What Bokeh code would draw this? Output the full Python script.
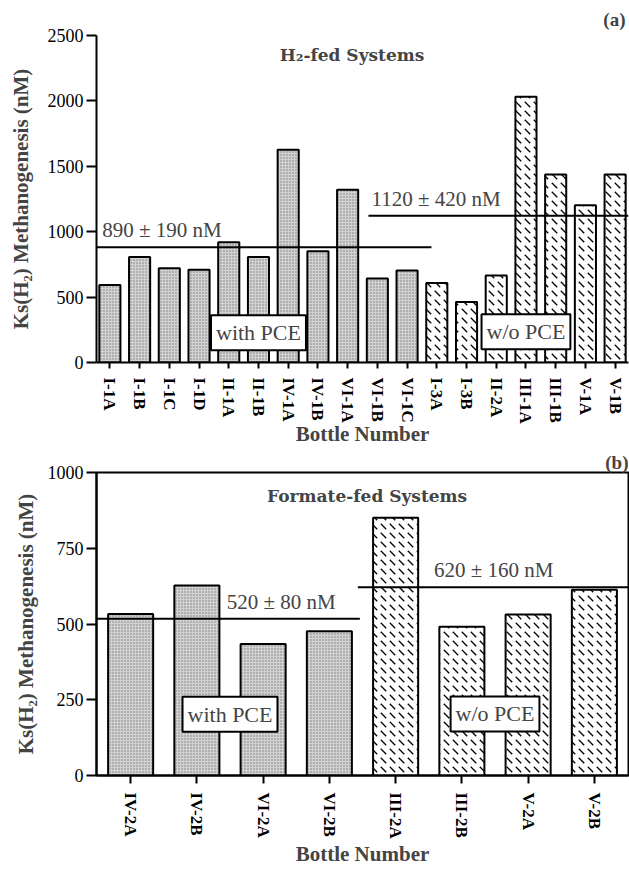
import numpy as np
from bokeh.plotting import figure
from bokeh.layouts import column
from bokeh.models import Range1d, FixedTicker, Label
from bokeh.embed import file_html
from bokeh.resources import INLINE

# ---------------- data: panel (a) H2-fed systems ----------------
a_with_bottles = ["I-1A", "I-1B", "I-1C", "I-1D", "II-1A", "II-1B", "IV-1A",
                  "IV-1B", "VI-1A", "VI-1B", "VI-1C"]
a_with_ks = [593, 806, 720, 709, 920, 806, 1626, 851, 1320, 643, 704]
a_without_bottles = ["I-3A", "I-3B", "II-2A", "III-1A", "III-1B", "V-1A", "V-1B"]
a_without_ks = [608, 463, 666, 2031, 1438, 1203, 1438]
a_with_text = "890 ± 190 nM"
a_without_text = "1120 ± 420 nM"
a_yticks = [0, 500, 1000, 1500, 2000, 2500]

# ---------------- data: panel (b) formate-fed systems ----------------
b_with_bottles = ["IV-2A", "IV-2B", "VI-2A", "VI-2B"]
b_with_ks = [533, 627, 434, 476]
b_without_bottles = ["III-2A", "III-2B", "V-2A", "V-2B"]
b_without_ks = [851, 491, 531, 613]
b_with_text = "520 ± 80 nM"
b_without_text = "620 ± 160 nM"
b_yticks = [0, 250, 500, 750, 1000]

SERIF = "Liberation Serif"
TITLE_FONT = "DejaVu Serif"
GRAY = "#d2d2d2"


def panel(with_b, with_v, wo_b, wo_v, yticks, ymax, xpad, title, tag,
          with_txt, wo_txt, width, height, borders, outline, layout):
    names = with_b + wo_b
    n = len(names)
    xi_with = np.arange(len(with_b))
    xi_wo = np.arange(len(with_b), n)
    p = figure(width=width, height=height, output_backend="svg",
               toolbar_location=None, x_range=Range1d(-xpad, n - 1 + xpad),
               y_range=Range1d(0, ymax), title=tag,
               min_border_left=borders[0], min_border_right=borders[1],
               min_border_top=borders[2], min_border_bottom=borders[3])
    p.title.align = "right"
    p.title.text_font = SERIF
    p.title.text_font_size = "19px"
    p.title.text_font_style = "bold"
    p.title.standoff = layout["tag_standoff"]
    p.title.offset = layout["tag_offset"]
    p.grid.visible = False
    p.background_fill_color = "white"
    p.border_fill_color = "white"
    if outline:
        p.outline_line_color = "black"
        p.outline_line_width = 2
    else:
        p.outline_line_color = None

    bw = layout["bw"]
    p.vbar(x=xi_with, top=with_v, width=bw, fill_color=GRAY,
           hatch_pattern="dot", hatch_color="#7a7a7a", hatch_scale=3,
           hatch_weight=1, line_color="black", line_width=2)
    p.vbar(x=xi_wo, top=wo_v, width=bw, fill_color="white",
           hatch_pattern="left_diagonal_dash", hatch_color="black",
           hatch_scale=9, hatch_weight=1.3, line_color="black", line_width=2)

    m_with = float(np.mean(with_v))
    m_wo = float(np.mean(wo_v))
    x_lo, x_hi = -xpad, n - 1 + xpad
    p.segment(x0=[x_lo, xi_wo[0] - layout["wo_start"]],
              x1=[xi_with[-1] + layout["with_end"], x_hi],
              y0=[m_with, m_wo], y1=[m_with, m_wo],
              line_color="black", line_width=2)

    p.add_layout(Label(x=layout["with_txt_x"], y=m_with, y_offset=5,
                       text=with_txt, text_font=SERIF, text_font_size="21px",
                       text_align="left", text_baseline="bottom"))
    p.add_layout(Label(x=layout["wo_txt_x"], y=m_wo, y_offset=5,
                       text=wo_txt, text_font=SERIF, text_font_size="21px",
                       text_align="left", text_baseline="bottom"))

    for bx, by, t in [(layout["box1"][0], layout["box1"][1], "with PCE"),
                      (layout["box2"][0], layout["box2"][1], "w/o PCE")]:
        p.add_layout(Label(x=bx, y=by, text=t, text_font=SERIF,
                           text_font_size="22px", text_align="center",
                           text_baseline="middle", padding=5,
                           background_fill_color="white",
                           border_line_color="black", border_line_width=2))

    p.add_layout(Label(x=layout["title"][0], y=layout["title"][1], text=title,
                       text_font=TITLE_FONT, text_font_size="17px",
                       text_font_style="bold", text_align="center",
                       text_baseline="middle"))

    xa = p.xaxis[0]
    xa.ticker = FixedTicker(ticks=list(range(n)))
    xa.major_label_overrides = {i: s for i, s in enumerate(names)}
    xa.major_label_orientation = "vertical"
    xa.major_label_text_font = SERIF
    xa.major_label_text_font_style = "bold"
    xa.major_label_text_font_size = "17px"
    xa.major_label_text_color = "black"
    xa.major_tick_in = 0
    xa.major_tick_out = layout["xtick"]
    xa.minor_tick_line_color = None
    xa.major_tick_line_width = 2
    xa.axis_line_width = 2
    xa.axis_line_color = "black"
    xa.major_label_standoff = layout["xstand"]
    xa.axis_label = "Bottle Number"
    xa.axis_label_text_font = SERIF
    xa.axis_label_text_font_style = "bold"
    xa.axis_label_text_font_size = "21px"
    xa.axis_label_standoff = layout["xlab_standoff"]

    ya = p.yaxis[0]
    ya.ticker = FixedTicker(ticks=yticks)
    ya.major_label_text_font = SERIF
    ya.major_label_text_font_size = "18px"
    ya.major_label_text_color = "black"
    ya.major_tick_in = 0
    ya.major_tick_out = 10
    ya.major_tick_line_width = 2
    ya.minor_tick_line_color = None
    ya.axis_line_width = 2
    ya.axis_line_color = "black"
    ya.major_label_standoff = 3
    ya.axis_label = "Ks(H₂) Methanogenesis (nM)"
    ya.axis_label_text_font = SERIF
    ya.axis_label_text_font_style = "bold"
    ya.axis_label_text_font_size = "21px"
    ya.axis_label_standoff = layout["ylab_standoff"]
    return p


pa = panel(a_with_bottles, a_with_ks, a_without_bottles, a_without_ks,
           a_yticks, 2500, 0.45, "H₂-fed Systems", "(a)",
           a_with_text, a_without_text, 629, 449, (96, 1, 33, 87), False,
           dict(bw=0.71, with_end=0.82, wo_start=2.3, with_txt_x=-0.26,
                wo_txt_x=8.8, box1=(5, 228), box2=(14, 235),
                title=(8.15, 2348), xtick=6, xstand=9, xlab_standoff=-5,
                tag_standoff=12, tag_offset=3, ylab_standoff=12))

pb = panel(b_with_bottles, b_with_ks, b_without_bottles, b_without_ks,
           b_yticks, 1000, 0.515, "Formate-fed Systems", "(b)",
           b_with_text, b_without_text, 629, 420, (92, 1, 22, 94), True,
           dict(bw=0.68, with_end=0.46, wo_start=0.57, with_txt_x=1.45,
                wo_txt_x=4.58, box1=(1.5, 202), box2=(5.5, 203),
                title=(3.57, 923), xtick=8, xstand=9, xlab_standoff=0,
                tag_standoff=0, tag_offset=0, ylab_standoff=7))

layout_all = column(pa, pb, spacing=0)
open("out.html", "w").write(file_html(layout_all, INLINE))
